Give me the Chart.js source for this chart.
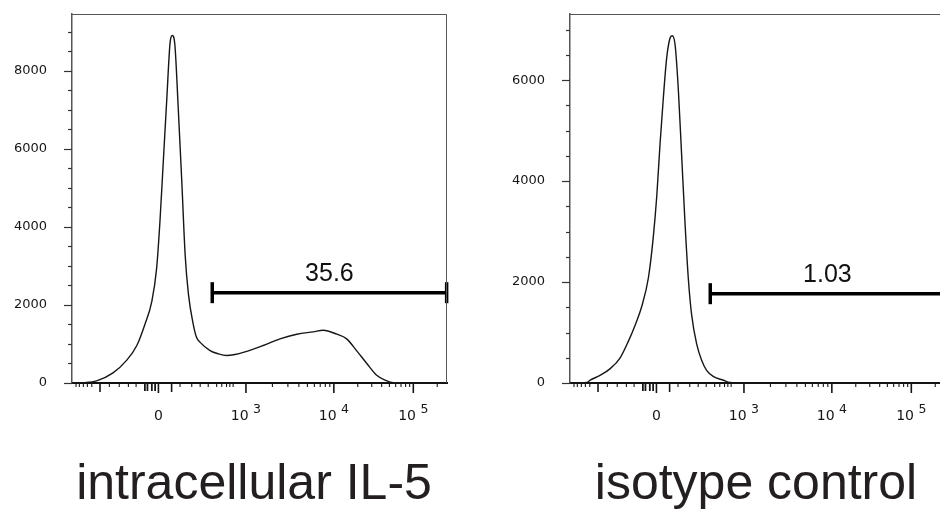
<!DOCTYPE html>
<html>
<head>
<meta charset="utf-8">
<script src="https://cdn.jsdelivr.net/npm/chart.js@4"></script>
<style>
  html, body { margin: 0; padding: 0; background: #fff; }
  body { width: 940px; height: 515px; position: relative; overflow: hidden; }
  canvas { position: absolute; top: 0; }
  #cL { left: 0; }
  #cR { left: 470px; }
  .title {
    position: absolute; top: 457px; height: 50px; line-height: 50px;
    font-family: "Liberation Sans", Arial, sans-serif; font-size: 50px;
    color: #231f20; text-align: center; white-space: nowrap;
  }
</style>
</head>
<body>
<canvas id="cL" width="470" height="430"></canvas>
<canvas id="cR" width="490" height="430"></canvas>
<div class="title" style="left:0;width:508px">intracellular IL-5</div>
<div class="title" style="left:504px;width:504px">isotype control</div>

<script>
// x is in display channels (0..1024) of the biexponential axis
const leftChannels = [0, 35, 67, 112, 149, 177, 199, 218, 231, 240, 249, 259, 268, 274, 281, 290, 300, 309, 318, 331, 340, 350, 377, 400, 422, 445, 470, 522, 568, 614, 659, 686, 723, 750, 777, 805, 832, 855, 877, 900, 1024];
const leftCounts   = [0, 10, 55, 260, 580, 960, 1500, 2090, 2930, 4110, 5620, 7300, 8730, 8900, 8650, 7060, 5120, 3280, 2270, 1510, 1170, 1040, 830, 745, 705, 730, 790, 960, 1130, 1250, 1310, 1350, 1250, 1130, 830, 500, 200, 75, 10, 0, 0];

const rightChannels = [0, 46, 55, 82, 109, 137, 159, 177, 196, 214, 227, 237, 246, 255, 264, 273, 279, 287, 296, 305, 314, 323, 332, 346, 360, 373, 391, 419, 437, 478, 1024];
const rightCounts   = [0, 10, 55, 150, 280, 500, 820, 1130, 1520, 2080, 2860, 3710, 4750, 5660, 6440, 6830, 6880, 6700, 5790, 4490, 3180, 2080, 1360, 770, 440, 250, 130, 55, 10, 0, 0];

const yMaxes = [9450, 7310];
const yLabelStep = 2000;
const yMinorStep = 500;

// gate: positive region marker
const gateRange  = [383, 1023];
const gateCounts = [2313, 1769];
const gateLabels = ['35.6', '1.03'];

// x axis ticks (channels)
const majorTicks  = [236, 475, 715, 932];
const majorLabels = [['0', ''], ['10', '3'], ['10', '4'], ['10', '5']];
const mediumTicks = [76.5, 272];
const zeroTicks   = [199, 206, 218, 227];
const smallTicks  = [11, 20, 31, 42, 54, 102, 129, 154, 175, 295, 327, 350, 372, 395, 409, 422, 431, 440];
const decadeMinors = [2, 3, 4, 5, 6, 7, 8, 9];

const ink = '#161616';

const axisDeco = {
  id: 'axisDeco',
  afterDraw(chart, args, o) {
    const { ctx, chartArea: a, scales: { x, y } } = chart;
    ctx.save();
    // frame top + right
    ctx.strokeStyle = '#555';
    ctx.lineWidth = 1;
    ctx.beginPath();
    ctx.moveTo(a.left, a.top + 0.5);
    ctx.lineTo(a.right - 0.5, a.top + 0.5);
    ctx.lineTo(a.right - 0.5, a.bottom);
    ctx.stroke();

    // y ticks
    ctx.strokeStyle = '#333';
    ctx.lineWidth = 1.2;
    for (let v = 0; v <= o.yMax; v += yMinorStep) {
      const py = Math.round(y.getPixelForValue(v)) + 0.5;
      const len = v % yLabelStep === 0 ? 8 : 4;
      ctx.beginPath();
      ctx.moveTo(a.left - len, py);
      ctx.lineTo(a.left, py);
      ctx.stroke();
    }

    // x ticks
    const tick = (v, len, w) => {
      const px = x.getPixelForValue(v);
      ctx.lineWidth = w;
      ctx.beginPath();
      ctx.moveTo(px, a.bottom);
      ctx.lineTo(px, a.bottom + len);
      ctx.stroke();
    };
    ctx.strokeStyle = ink;
    smallTicks.forEach(v => tick(v, 4, 1.1));
    zeroTicks.forEach(v => tick(v, 8, 1.8));
    mediumTicks.forEach(v => tick(v, 9, 1.6));
    majorTicks.forEach(v => tick(v, 10, 1.6));
    for (let d = 1; d < majorTicks.length; d++) {
      const lo = majorTicks[d];
      const hi = d + 1 < majorTicks.length ? majorTicks[d + 1] : majorTicks[d] + (majorTicks[d] - majorTicks[d - 1]);
      decadeMinors.forEach(m => {
        const v = lo + Math.log10(m) * (hi - lo);
        if (v <= 1024) tick(v, 4, 1.1);
      });
    }

    // x labels with superscript exponents
    ctx.fillStyle = ink;
    ctx.textBaseline = 'alphabetic';
    ctx.textAlign = 'left';
    majorTicks.forEach((v, i) => {
      const [base, sup] = majorLabels[i];
      const px = x.getPixelForValue(v);
      ctx.font = '14px "DejaVu Sans"';
      const wb = ctx.measureText(base + (sup ? ' ' : '')).width;
      ctx.font = '12.5px "DejaVu Sans"';
      const ws = sup ? ctx.measureText(sup).width : 0;
      const x0 = px - (wb + ws) / 2;
      ctx.font = '14px "DejaVu Sans"';
      ctx.fillText(base, x0, 420);
      if (sup) {
        ctx.font = '12.5px "DejaVu Sans"';
        ctx.fillText(sup, x0 + wb, 413);
      }
    });

    // gate label
    const gx = x.getPixelForValue((gateRange[0] + gateRange[1]) / 2);
    const gy = y.getPixelForValue(o.gateY);
    ctx.font = '25px "Liberation Sans"';
    ctx.textAlign = 'center';
    ctx.fillStyle = '#111';
    ctx.fillText(o.label, gx, gy - 12);
    ctx.restore();
  }
};

function makeHist(id, chans, counts, idx, yAxisW, padRight) {
  const pts = chans.map((c, i) => ({ x: c, y: counts[i] }));
  const gate = gateRange.map(c => ({ x: c, y: gateCounts[idx] }));
  const yMax = yMaxes[idx];
  return new Chart(document.getElementById(id), {
    type: 'line',
    data: {
      datasets: [
        {
          data: pts, borderColor: ink, borderWidth: 1.4,
          pointRadius: 0, cubicInterpolationMode: 'monotone', fill: false, clip: false
        },
        {
          data: gate, borderColor: '#000', borderWidth: 3.5,
          pointStyle: 'line', rotation: 90, pointRadius: 10.5,
          pointBorderWidth: 3.5, pointBorderColor: '#000', pointHoverRadius: 10.5, clip: false
        }
      ]
    },
    options: {
      responsive: false, animation: false, events: [],
      layout: { padding: { left: 0, right: padRight, top: 9, bottom: 0 } },
      plugins: {
        legend: { display: false }, tooltip: { enabled: false },
        axisDeco: { yMax: yMax, gateY: gateCounts[idx], label: gateLabels[idx] }
      },
      scales: {
        x: {
          type: 'linear', min: 0, max: 1024,
          grid: { display: false, drawTicks: false },
          border: { display: true, color: '#111', width: 2 },
          ticks: { display: false },
          afterBuildTicks: s => { s.ticks = majorTicks.map(v => ({ value: v })); },
          afterFit: s => { s.height = 47; s.paddingLeft = 0; s.paddingRight = 0; }
        },
        y: {
          min: 0, max: yMax,
          grid: { display: false, drawTicks: true, tickLength: 8, tickColor: 'rgba(0,0,0,0)' },
          border: { display: true, color: '#555', width: 1.5 },
          ticks: {
            autoSkip: false, padding: 17, color: ink,
            font: { family: 'DejaVu Sans', size: 13 },
            callback: v => String(v)
          },
          afterBuildTicks: s => {
            const t = [];
            for (let v = 0; v <= yMax; v += yLabelStep) t.push({ value: v });
            s.ticks = t;
          },
          afterFit: s => { s.width = yAxisW; s.paddingTop = 0; s.paddingBottom = 0; }
        }
      }
    },
    plugins: [axisDeco]
  });
}

makeHist('cL', leftChannels, leftCounts, 0, 72, 23);
makeHist('cR', rightChannels, rightCounts, 1, 100, 15);
</script>
</body>
</html>
